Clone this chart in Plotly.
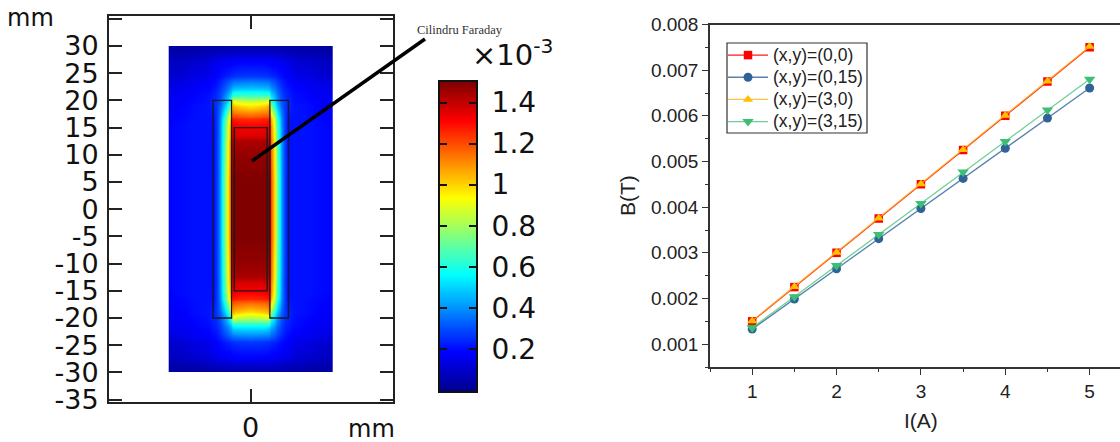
import numpy as np
import plotly.graph_objects as go

W, H = 1120, 442

# ---------- left panel: field magnitude (units of 1e-3 T), one quadrant.
# Cells are given by their edges; the cell midpoints (x = 0, 2, 3.15, 3.4, 3.6, 4, 4.5, 5, 5.5, 6, 6.8,
# 7.5, 9, 11, 13, 14.65 and y = 0, 5, 10, 13, 15, 17 ... 24, 26, 28, 29, 29.75) carry the values.
FIELD_X_EDGES = [1, 3, 3.3, 3.5, 3.7, 4.3, 4.7, 5.3, 5.7, 6.3, 7.3, 7.7, 10.3, 11.7, 14.3, 15]
FIELD_Y_EDGES = [2.5, 7.5, 12.5, 13.5, 16.5, 17.5, 18.5, 19.5, 20.5, 21.5, 22.5, 23.5, 24.5, 27.5, 28.5, 29.5, 30]
FIELD_Z = [
    [1.50, 1.50, 1.50, 1.50, 1.35, 1.08, .85, .65, .47, .34, .21, .21, .21, .21, .20, .19],
    [1.50, 1.50, 1.50, 1.50, 1.35, 1.08, .85, .65, .47, .34, .21, .21, .21, .21, .20, .19],
    [1.47, 1.47, 1.47, 1.47, 1.32, 1.05, .82, .63, .46, .34, .21, .21, .21, .21, .20, .19],
    [1.40, 1.40, 1.41, 1.41, 1.28, 1.03, .80, .61, .45, .33, .21, .21, .21, .21, .20, .19],
    [1.33, 1.33, 1.35, 1.35, 1.25, 1.00, .78, .60, .45, .33, .21, .21, .21, .21, .20, .19],
    [1.18, 1.19, 1.21, 1.22, 1.12, .90, .70, .54, .42, .32, .22, .21, .21, .20, .19, .18],
    [1.08, 1.10, 1.13, 1.14, 1.02, .80, .62, .49, .39, .31, .23, .22, .21, .20, .19, .18],
    [.97, 1.00, 1.05, 1.07, .85, .68, .53, .44, .35, .30, .24, .22, .21, .20, .18, .17],
    [.82, .84, .88, .90, .65, .55, .45, .38, .32, .28, .24, .22, .20, .19, .18, .17],
    [.64, .64, .63, .62, .55, .48, .41, .35, .30, .27, .23, .21, .20, .18, .17, .16],
    [.50, .50, .48, .47, .44, .40, .35, .31, .28, .25, .22, .20, .19, .17, .16, .15],
    [.41, .40, .39, .38, .37, .34, .31, .28, .25, .23, .20, .19, .18, .16, .15, .13],
    [.32, .31, .30, .30, .29, .28, .26, .24, .22, .21, .19, .18, .16, .15, .13, .12],
    [.22, .22, .21, .21, .21, .20, .20, .19, .19, .18, .17, .15, .13, .12, .10, .09],
    [.14, .14, .14, .14, .14, .13, .13, .13, .12, .12, .11, .10, .09, .08, .07, .06],
    [.09, .09, .09, .09, .09, .09, .08, .08, .08, .08, .07, .07, .06, .05, .05, .04],
    [.05, .05, .05, .05, .05, .05, .05, .05, .05, .05, .04, .04, .04, .03, .03, .03],
]
COIL_L = (-6.9, -3.5)
COIL_R = (3.5, 6.9)
COIL_Y = (-20, 20)
FARADAY_X = (-3, 3)
FARADAY_Y = (-15, 15)
LEFT_YTICKS = [35, 30, 25, 20, 15, 10, 5, 0, -5, -10, -15, -20, -25, -30, -35]
LEFT_YTEXT = ["", "30", "25", "20", "15", "10", "5", "0", "-5", "-10", "-15", "-20", "-25", "-30", "-35"]

# ---------- colour bar
CBAR_TICKS = [0.2, 0.4, 0.6, 0.8, 1.0, 1.2, 1.4]
CBAR_TEXT = ["0.2", "0.4", "0.6", "0.8", "1", "1.2", "1.4"]
JET = [[0, "rgb(0,0,143)"], [.125, "rgb(0,0,255)"], [.375, "rgb(0,255,255)"],
       [.625, "rgb(255,255,0)"], [.875, "rgb(255,0,0)"], [1, "rgb(128,0,0)"]]

# ---------- right panel
CURRENT = [1, 1.5, 2, 2.5, 3, 3.5, 4, 4.5, 5]
B_00 = [.0015, .00225, .0030, .00375, .0045, .00525, .0060, .00675, .0075]
B_015 = [.00133, .00199, .00265, .00331, .00397, .00463, .00529, .00595, .00661]
B_30 = [.00151, .00226, .00301, .00376, .00451, .00526, .00601, .00676, .00752]
B_315 = [.00136, .00204, .00272, .0034, .00408, .00477, .00544, .00613, .0068]
SERIES = [
    ("(x,y)=(0,0)", B_00, "#FF0000", "rgba(255,0,0,0.9)", "square", 8.5),
    ("(x,y)=(0,15)", B_015, "#2F6398", "rgba(47,99,152,0.8)", "circle", 9),
    ("(x,y)=(3,0)", B_30, "#FFC000", "rgba(255,180,30,0.8)", "triangle-up", 9),
    ("(x,y)=(3,15)", B_315, "#3CBF73", "rgba(60,191,115,0.75)", "triangle-down", 10),
]


def px(x):
    return x / W


def py(y):
    return 1 - y / H


xe = np.array(FIELD_X_EDGES)
ye = np.array(FIELD_Y_EDGES)
zh = np.array(FIELD_Z)
xf = np.concatenate([-xe[::-1], xe])
yf = np.concatenate([-ye[::-1], ye])
zf = np.hstack([zh[:, :0:-1], zh])
zf = np.vstack([zf[:0:-1], zf])

fig = go.Figure()
fig.add_trace(go.Heatmap(x=xf, y=yf, z=zf, xaxis="x", yaxis="y", colorscale=JET, zmin=0, zmax=1.5,
                         zsmooth="best", showscale=False, hoverinfo="skip"))

ramp = np.linspace(0, 1.5, 151)
fig.add_trace(go.Heatmap(x=[0, 1], y=ramp, z=np.column_stack([ramp, ramp]), xaxis="x3", yaxis="y3",
                         colorscale=JET, zmin=0, zmax=1.5, zsmooth="best", showscale=False, hoverinfo="skip"))

for name, vals, col, lcol, sym, size in SERIES:
    fig.add_trace(go.Scatter(x=CURRENT, y=vals, name=f'<span style="font-size:17.5px">{name}</span>',
                             mode="lines+markers", xaxis="x2", yaxis="y2",
                             line=dict(color=lcol, width=1.3),
                             marker=dict(color=col, symbol=sym, size=size, line=dict(width=0))))

shapes = []
for (x0, x1) in (COIL_L, COIL_R):
    shapes.append(dict(type="rect", xref="x", yref="y", x0=x0, x1=x1, y0=COIL_Y[0], y1=COIL_Y[1],
                       line=dict(color="#1a1a1a", width=1.3)))
shapes.append(dict(type="rect", xref="x", yref="y", x0=FARADAY_X[0], x1=FARADAY_X[1], y0=FARADAY_Y[0], y1=FARADAY_Y[1],
                   line=dict(color="#1a1a1a", width=1.3)))
shapes.append(dict(type="line", xref="paper", yref="paper", x0=px(252), y0=py(161), x1=px(425), y1=py(39),
                   line=dict(color="black", width=3.5)))
# legend frame
shapes.append(dict(type="rect", xref="paper", yref="paper", x0=px(727), x1=px(867), y0=py(133), y1=py(43),
                   line=dict(color="#333", width=1.2), fillcolor="white", layer="above"))

dj = "DejaVu Sans"
ar = "Liberation Sans"


def note(text, x, y, size, fam, color="#111", xanchor="left", angle=0):
    return dict(text=text, x=px(x), y=py(y), xref="paper", yref="paper", showarrow=False, textangle=angle,
                xanchor=xanchor, yanchor="middle", font=dict(family=fam, size=size, color=color))


annotations = [
    note("mm", 5, 18, 24, dj),
    note("mm", 346, 429, 24, dj),
    note("Cilindru Faraday", 415, 30, 12.5, "Liberation Serif", "#333"),
    note("×10<sup>-3</sup>", 470, 53, 29, dj),
    note("I(A)", 921, 420, 21, ar, "#222", "center"),
    note("B(T)", 627, 196, 21, ar, "#222", "center", -90),
]

fig.update_layout(
    width=W, height=H, margin=dict(l=0, r=0, t=0, b=0, pad=0),
    paper_bgcolor="white", plot_bgcolor="white",
    xaxis=dict(domain=[px(109), px(392.7)], range=[-25.92, 25.97], anchor="y", showgrid=False, zeroline=False,
               automargin=False,
               tickmode="array", tickvals=[0], ticktext=["0"], ticks="inside", ticklen=13, tickwidth=1.6,
               tickcolor="#222", mirror="ticks", showline=True, linecolor="#222", linewidth=2,
               tickfont=dict(family=dj, size=27, color="#111")),
    yaxis=dict(domain=[py(402.3), py(15.7)], range=[-35.5, 35.57], anchor="x", showgrid=False, zeroline=False,
               automargin=False, ticklabelstandoff=3,
               tickmode="array", tickvals=LEFT_YTICKS, ticktext=LEFT_YTEXT, ticks="inside", ticklen=13, tickwidth=1.6,
               tickcolor="#222", mirror="ticks", showline=True, linecolor="#222", linewidth=2,
               tickfont=dict(family=dj, size=27, color="#111")),
    xaxis3=dict(domain=[px(440), px(476)], range=[0, 1], anchor="y3", showgrid=False, zeroline=False,
                automargin=False,
                showticklabels=False, ticks="", showline=True, linecolor="#111", linewidth=2, mirror=True),
    yaxis3=dict(domain=[py(391), py(82)], range=[-0.005, 1.5], anchor="x3", side="right", showgrid=False, zeroline=False,
                automargin=False,
                tickmode="array", tickvals=CBAR_TICKS, ticktext=CBAR_TEXT, ticks="inside", ticklen=7, tickwidth=1.6,
                tickcolor="#111", mirror="ticks", showline=True, linecolor="#111", linewidth=2,
                ticklabelstandoff=8, tickfont=dict(family=dj, size=28, color="#111")),
    xaxis2=dict(domain=[px(710), 1], range=[0.5, 5.36], anchor="y2", showgrid=False, zeroline=False,
                automargin=False,
                tick0=1, dtick=1, ticks="outside", ticklen=6, tickwidth=1.4, tickcolor="#333",
                minor=dict(tick0=0.5, dtick=0.5, ticks="outside", ticklen=3, tickwidth=1.2, tickcolor="#333"),
                showline=True, linecolor="#333", linewidth=1.5, mirror=True,
                tickfont=dict(family=ar, size=19, color="#222")),
    yaxis2=dict(domain=[py(367), py(24.5)], range=[0.0005, 0.008], anchor="x2", showgrid=False, zeroline=False,
                automargin=False,
                tick0=0.001, dtick=0.001, tickformat=".3f", ticks="outside", ticklen=6, tickwidth=1.4, tickcolor="#333",
                minor=dict(tick0=0.0005, dtick=0.0005, ticks="outside", ticklen=3, tickwidth=1.2, tickcolor="#333"),
                showline=True, linecolor="#333", linewidth=1.5,
                tickfont=dict(family=ar, size=19, color="#222")),
    legend=dict(x=px(723), y=py(39), xanchor="left", yanchor="top", bgcolor="rgba(0,0,0,0)", borderwidth=0,
                font=dict(family=ar, size=14.75, color="#222"), itemwidth=40, tracegroupgap=0),
    shapes=shapes, annotations=annotations, showlegend=True,
)

fig.write_html("out.html", config=dict(displayModeBar=False),
               post_script="document.body.style.margin='0';document.body.style.overflow='hidden';")
